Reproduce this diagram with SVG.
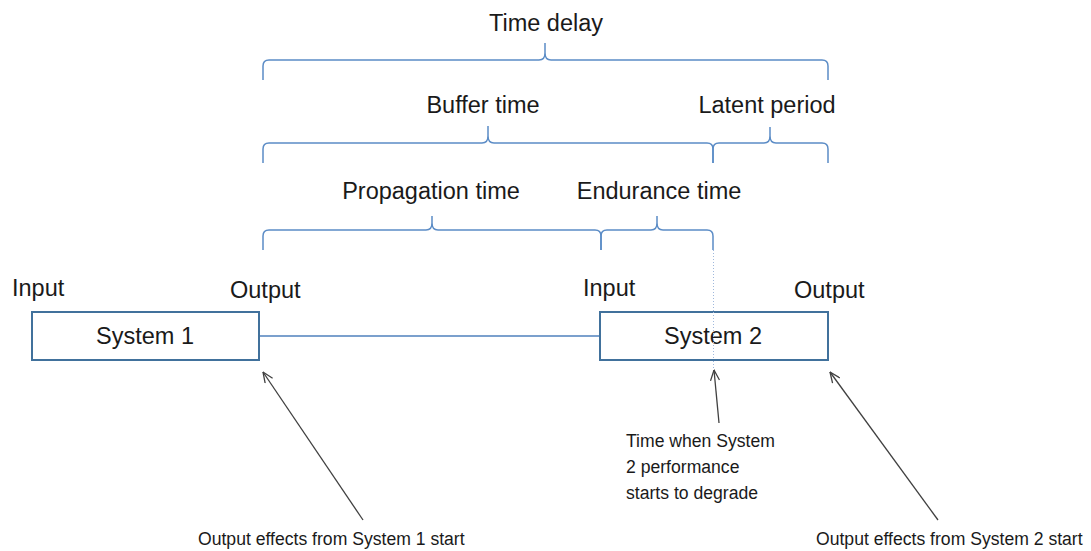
<svg xmlns="http://www.w3.org/2000/svg" width="1091" height="551" viewBox="0 0 1091 551">
<style>
text{font-family:"Liberation Sans",Arial,sans-serif;fill:#1a1a1a}
.h{font-size:23.5px}
.s{font-size:17.6px}
.brace{fill:none;stroke:#5b8cc6;stroke-width:1.5}
.box{fill:#ffffff;stroke:#41719c;stroke-width:2}
.link{fill:none;stroke:#4f81bd;stroke-width:1.5}
.dot{fill:none;stroke:#9fb8dc;stroke-width:1;stroke-dasharray:1 2}
.arr{fill:none;stroke:#404040;stroke-width:1.3;marker-end:url(#ah)}
</style>
<defs>
<marker id="ah" viewBox="0 0 12 10" refX="11.5" refY="5" markerWidth="12" markerHeight="10" markerUnits="userSpaceOnUse" orient="auto">
<path d="M1,0.5 L11.5,5 L1,9.5" fill="none" stroke="#404040" stroke-width="1.3"/>
</marker>
</defs>

<g id="connectors">
<path class="brace" d="M263,80 L263,66 Q263,60 269,60 L539,60 Q545,60 545,53 L545,43 M545,53 Q545,60 551,60 L822,60 Q828,60 828,66 L828,80"/>
<path class="brace" d="M263,163 L263,149 Q263,143 269,143 L482,143 Q488,143 488,136 L488,126 M488,136 Q488,143 494,143 L707,143 Q713,143 713,149 L713,163"/>
<path class="brace" d="M713,163 L713,149 Q713,143 719,143 L764,143 Q770,143 770,136 L770,127 M770,136 Q770,143 776,143 L822,143 Q828,143 828,149 L828,163"/>
<path class="brace" d="M263,250 L263,236 Q263,230 269,230 L426,230 Q432,230 432,223 L432,216 M432,223 Q432,230 438,230 L595,230 Q601,230 601,236 L601,250"/>
<path class="brace" d="M601,250 L601,236 Q601,230 607,230 L651,230 Q657,230 657,223 L657,216 M657,223 Q657,230 663,230 L707,230 Q713,230 713,236 L713,250"/>
<line class="link" x1="260" y1="336" x2="600" y2="336"/>
<line class="dot" x1="713.5" y1="250" x2="713.5" y2="370"/>
<line class="arr" x1="363" y1="520" x2="263" y2="372"/>
<line class="arr" x1="719" y1="423" x2="714" y2="370"/>
<line class="arr" x1="938" y1="520" x2="830" y2="372"/>
</g>

<g id="labels">
<text class="h" x="546" y="31" text-anchor="middle">Time delay</text>
<text class="h" x="483" y="113" text-anchor="middle">Buffer time</text>
<text class="h" x="767" y="113" text-anchor="middle">Latent period</text>
<text class="h" x="431" y="199" text-anchor="middle">Propagation time</text>
<text class="h" x="659" y="199" text-anchor="middle">Endurance time</text>
</g>

<g id="system1">
<rect class="box" x="32" y="312" width="227" height="48"/>
<text class="h" x="145" y="344" text-anchor="middle">System 1</text>
<text class="h" x="12" y="296">Input</text>
<text class="h" x="230" y="298">Output</text>
</g>

<g id="system2">
<rect class="box" x="600" y="312" width="228" height="48"/>
<text class="h" x="713" y="344" text-anchor="middle">System 2</text>
<text class="h" x="583" y="296">Input</text>
<text class="h" x="794" y="298">Output</text>
</g>
<line class="dot" x1="713.5" y1="312" x2="713.5" y2="360"/>

<g id="note-degrade">
<text class="s" x="626" y="447">Time when System</text>
<text class="s" x="626" y="473">2 performance</text>
<text class="s" x="626" y="499">starts to degrade</text>
</g>

<g id="note-output1">
<text class="s" x="198" y="545">Output effects from System 1 start</text>
</g>

<g id="note-output2">
<text class="s" x="816" y="545">Output effects from System 2 start</text>
</g>
</svg>
